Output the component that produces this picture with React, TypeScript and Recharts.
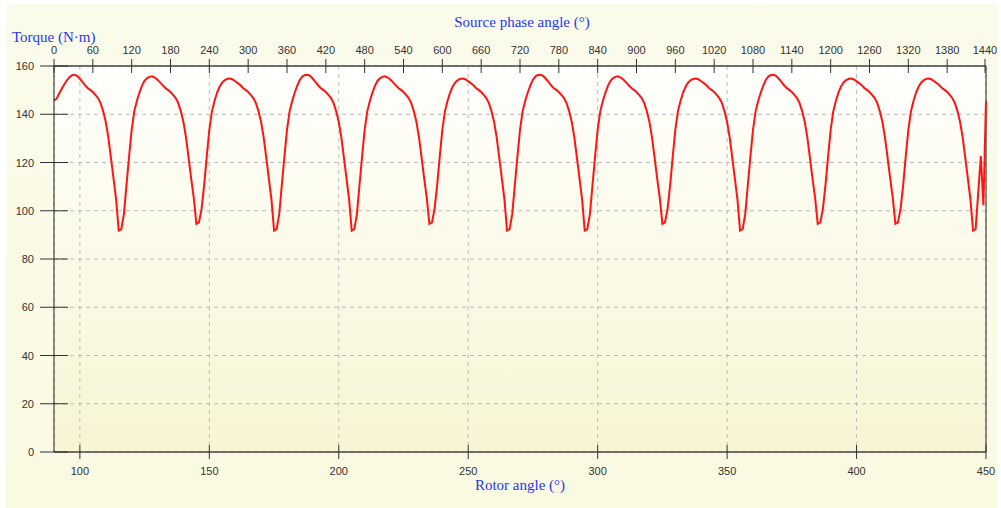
import { LineChart, Line, XAxis, YAxis, CartesianGrid, ReferenceLine } from "recharts";

// rotor angle of the first sample, one sample per degree
const ROTOR_START = 90;

// torque in N·m, rows of 30 samples (one electrical period each)
const torque = [
  // 90 – 119
  145.8, 146.4, 148.6, 150.6, 152.4, 154.1, 155.4, 156.2, 156.4, 155.8, 154.7, 153.4, 152.0, 150.9, 150.1,
  149.2, 148.0, 146.7, 144.6, 141.2, 136.8, 130.3, 121.9, 113.3, 104.6, 91.8, 92.4, 98.6, 110.6, 122.4,
  // 120 – 149
  133.5, 141.2, 145.5, 149.0, 151.9, 153.9, 155.0, 155.6, 155.7, 155.1, 154.3, 153.2, 152.0, 150.9, 150.1,
  149.2, 148.0, 146.7, 144.6, 141.2, 136.8, 130.3, 121.9, 113.3, 105.2, 94.6, 95.2, 100.8, 110.6, 122.4,
  // 150 – 179
  133.5, 141.2, 145.5, 149.0, 151.5, 153.2, 154.2, 154.7, 154.8, 154.4, 153.7, 152.9, 152.0, 150.9, 150.1,
  149.2, 148.0, 146.7, 144.6, 141.2, 136.8, 130.3, 121.9, 113.3, 104.6, 91.8, 92.4, 98.6, 110.6, 122.4,
  // 180 – 209
  133.5, 141.2, 145.5, 149.0, 152.0, 154.3, 155.7, 156.3, 156.4, 155.8, 154.7, 153.4, 152.0, 150.9, 150.1,
  149.2, 148.0, 146.7, 144.6, 141.2, 136.8, 130.3, 121.9, 113.3, 104.6, 91.8, 92.4, 98.6, 110.6, 122.4,
  // 210 – 239
  133.5, 141.2, 145.5, 149.0, 151.9, 153.9, 155.0, 155.6, 155.7, 155.1, 154.3, 153.2, 152.0, 150.9, 150.1,
  149.2, 148.0, 146.7, 144.6, 141.2, 136.8, 130.3, 121.9, 113.3, 105.2, 94.6, 95.2, 100.8, 110.6, 122.4,
  // 240 – 269
  133.5, 141.2, 145.5, 149.0, 151.5, 153.2, 154.2, 154.7, 154.8, 154.4, 153.7, 152.9, 152.0, 150.9, 150.1,
  149.2, 148.0, 146.7, 144.6, 141.2, 136.8, 130.3, 121.9, 113.3, 104.6, 91.8, 92.4, 98.6, 110.6, 122.4,
  // 270 – 299
  133.5, 141.2, 145.5, 149.0, 152.0, 154.3, 155.7, 156.3, 156.4, 155.8, 154.7, 153.4, 152.0, 150.9, 150.1,
  149.2, 148.0, 146.7, 144.6, 141.2, 136.8, 130.3, 121.9, 113.3, 104.6, 91.8, 92.4, 98.6, 110.6, 122.4,
  // 300 – 329
  133.5, 141.2, 145.5, 149.0, 151.9, 153.9, 155.0, 155.6, 155.7, 155.1, 154.3, 153.2, 152.0, 150.9, 150.1,
  149.2, 148.0, 146.7, 144.6, 141.2, 136.8, 130.3, 121.9, 113.3, 105.2, 94.6, 95.2, 100.8, 110.6, 122.4,
  // 330 – 359
  133.5, 141.2, 145.5, 149.0, 151.5, 153.2, 154.2, 154.7, 154.8, 154.4, 153.7, 152.9, 152.0, 150.9, 150.1,
  149.2, 148.0, 146.7, 144.6, 141.2, 136.8, 130.3, 121.9, 113.3, 104.6, 91.8, 92.4, 98.6, 110.6, 122.4,
  // 360 – 389
  133.5, 141.2, 145.5, 149.0, 152.0, 154.3, 155.7, 156.3, 156.4, 155.8, 154.7, 153.4, 152.0, 150.9, 150.1,
  149.2, 148.0, 146.7, 144.6, 141.2, 136.8, 130.3, 121.9, 113.3, 105.2, 94.6, 95.2, 100.8, 110.6, 122.4,
  // 390 – 419
  133.5, 141.2, 145.5, 149.0, 151.5, 153.2, 154.2, 154.7, 154.8, 154.4, 153.7, 152.9, 152.0, 150.9, 150.1,
  149.2, 148.0, 146.7, 144.6, 141.2, 136.8, 130.3, 121.9, 113.3, 105.2, 94.6, 95.2, 100.8, 110.6, 122.4,
  // 420 – 449
  133.5, 141.2, 145.5, 149.0, 151.5, 153.2, 154.2, 154.7, 154.8, 154.4, 153.7, 152.9, 152.0, 150.9, 150.1,
  149.2, 148.0, 146.7, 144.6, 141.2, 136.8, 130.3, 121.9, 113.3, 104.6, 91.8, 92.4, 107.5, 122.7, 102.3,
  // 450
  145.5,
];

const rotorTicks = [100, 150, 200, 250, 300, 350, 400, 450];
const phaseTicks = [
  0, 60, 120, 180, 240, 300, 360, 420, 480, 540, 600, 660, 720,
  780, 840, 900, 960, 1020, 1080, 1140, 1200, 1260, 1320, 1380, 1440,
];
const torqueTicks = [0, 20, 40, 60, 80, 100, 120, 140, 160];

const data = torque.map((t, i) => ({ rotor: ROTOR_START + i, phase: i * 4, torque: t }));

const TICK_FONT = "'Liberation Sans', Arial, sans-serif";
const TITLE_FONT = "'Liberation Serif', 'Times New Roman', serif";
const INK = "#333";
const BLUE = "#2438f2";

const TopTick = (p: any) => {
  const axisY = p.y + 11;
  return (
    <g>
      <line x1={p.x} x2={p.x} y1={axisY - 7} y2={axisY + 7} stroke={INK} />
      <text x={p.x} y={axisY - 12} textAnchor="middle" fontSize={11} fill={INK} fontFamily={TICK_FONT}>
        {p.payload.value}
      </text>
    </g>
  );
};

const BottomTick = (p: any) => {
  const axisY = p.y - 11;
  return (
    <g>
      <line x1={p.x} x2={p.x} y1={axisY - 7} y2={axisY + 7} stroke={INK} />
      <text x={p.x} y={axisY + 23} textAnchor="middle" fontSize={11} fill={INK} fontFamily={TICK_FONT}>
        {p.payload.value}
      </text>
    </g>
  );
};

const LeftTick = (p: any) => {
  const axisX = p.x + 20;
  return (
    <g>
      <line x1={axisX - 14} x2={axisX + 14} y1={p.y} y2={p.y} stroke={INK} />
      <text x={p.x} y={p.y + 4} textAnchor="end" fontSize={11} fill={INK} fontFamily={TICK_FONT}>
        {p.payload.value}
      </text>
    </g>
  );
};

export default function App() {
  return (
    <div style={{ position: "relative", width: 1001, height: 508, background: "#fff" }}>
      <style>{"body{margin:0}"}</style>
      <div
        style={{
          position: "absolute", left: 6, top: 4, width: 991, height: 504,
          background: "linear-gradient(180deg, #fbfbeb 0%, #faf9e2 100%)",
        }}
      />
      <div style={{ position: "absolute", left: 0, top: 0 }}>
        <LineChart width={1001} height={508} data={data} margin={{ top: 36, right: 15, bottom: 26, left: 0 }}>
          <defs>
            <linearGradient id="plotBg" x1="0" y1="0" x2="0" y2="1">
              <stop offset="0%" stopColor="#fffffd" />
              <stop offset="100%" stopColor="#f7f5d3" />
            </linearGradient>
          </defs>
          <CartesianGrid
            xAxisId="bottom"
            fill="url(#plotBg)"
            stroke="#bdbdbd"
            strokeDasharray="4 4"
          />
          <XAxis
            xAxisId="bottom"
            dataKey="rotor"
            type="number"
            domain={[90, 450]}
            ticks={rotorTicks}
            height={30}
            tickSize={7}
            tickMargin={4}
            tickLine={false}
            tick={<BottomTick />}
            axisLine={{ stroke: "#444", strokeWidth: 1.5 }}
          />
          <XAxis
            xAxisId="top"
            orientation="top"
            dataKey="phase"
            type="number"
            domain={[0, 1440]}
            ticks={phaseTicks}
            height={30}
            tickSize={7}
            tickMargin={4}
            tickLine={false}
            tick={<TopTick />}
            axisLine={{ stroke: "#444", strokeWidth: 1.5 }}
          />
          <YAxis
            domain={[0, 160]}
            ticks={torqueTicks}
            width={54}
            tickSize={14}
            tickMargin={6}
            tickLine={false}
            tick={<LeftTick />}
            axisLine={{ stroke: "#222" }}
          />
          <ReferenceLine xAxisId="bottom" x={450} stroke="#222" />
          <Line
            xAxisId="bottom"
            dataKey="torque"
            type="linear"
            stroke="#ff1414"
            strokeWidth={2}
            dot={false}
            isAnimationActive={false}
          />
        </LineChart>
      </div>
      <svg
        width={1001}
        height={508}
        style={{ position: "absolute", left: 0, top: 0, pointerEvents: "none" }}
      >
        <g fontFamily={TITLE_FONT} fontSize={15} fill={BLUE}>
          <text x={12} y={42}>Torque (N·m)</text>
          <text x={522} y={27} textAnchor="middle">Source phase angle (°)</text>
          <text x={520} y={490} textAnchor="middle">Rotor angle (°)</text>
        </g>
      </svg>
    </div>
  );
}
